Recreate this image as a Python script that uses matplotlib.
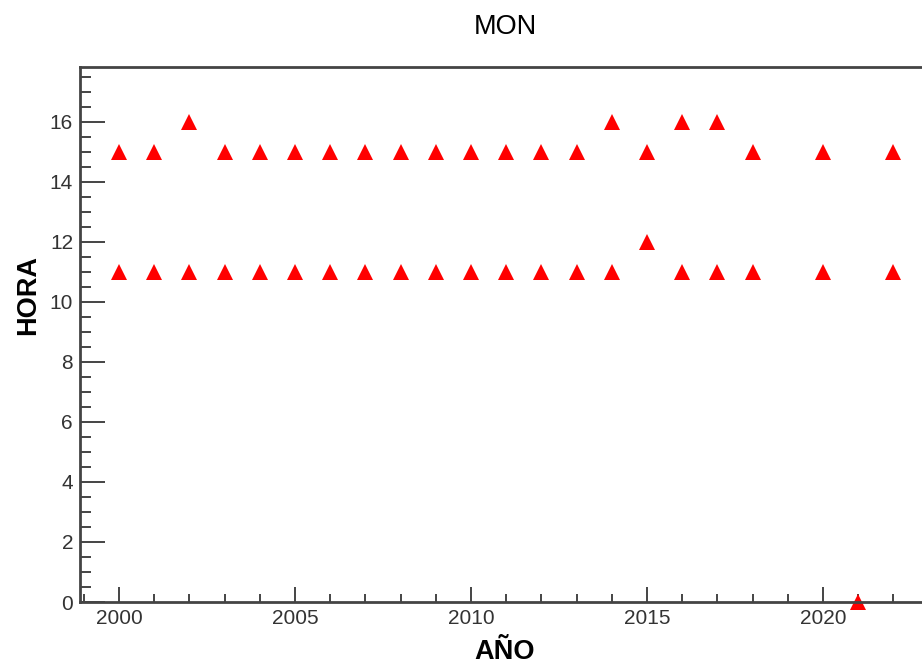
import matplotlib
matplotlib.use('Agg')
import matplotlib.pyplot as plt
from matplotlib.ticker import MultipleLocator

plt.rcParams['font.family'] = ['Liberation Sans', 'DejaVu Sans']

# hours per year (two readings per year, some missing)
years_high = [2000, 2001, 2002, 2003, 2004, 2005, 2006, 2007, 2008, 2009, 2010, 2011,
              2012, 2013, 2014, 2015, 2016, 2017, 2018, 2020, 2021, 2022]
hours_high = [15, 15, 16, 15, 15, 15, 15, 15, 15, 15, 15, 15,
              15, 15, 16, 15, 16, 16, 15, 15, 0, 15]
years_low = [2000, 2001, 2002, 2003, 2004, 2005, 2006, 2007, 2008, 2009, 2010, 2011,
             2012, 2013, 2014, 2015, 2016, 2017, 2018, 2020, 2022]
hours_low = [11, 11, 11, 11, 11, 11, 11, 11, 11, 11, 11, 11,
             11, 11, 11, 12, 11, 11, 11, 11, 11]

axis_col = '#444444'

fig = plt.figure(figsize=(9.22, 6.66), dpi=100)
ax = fig.add_axes([80 / 922, 64 / 666, 850 / 922, 535 / 666])

ax.plot(years_high, hours_high, linestyle='none', marker='^', markersize=11.5,
        color='red', markeredgewidth=0, clip_on=False)
ax.plot(years_low, hours_low, linestyle='none', marker='^', markersize=11.5,
        color='red', markeredgewidth=0, clip_on=False)

ax.set_xlim(1998.89, 2023.04)
ax.set_ylim(0, 17.83)

ax.xaxis.set_major_locator(MultipleLocator(5))
ax.xaxis.set_minor_locator(MultipleLocator(1))
ax.yaxis.set_major_locator(MultipleLocator(2))
ax.yaxis.set_minor_locator(MultipleLocator(0.5))

ax.tick_params(axis='x', which='major', direction='in', length=11, width=1.4,
               color=axis_col, labelsize=15, labelcolor='#333333', pad=5)
ax.tick_params(axis='x', which='minor', direction='in', length=6, width=1.4, color=axis_col)
ax.tick_params(axis='y', which='major', direction='in', length=18, width=1.4,
               color=axis_col, labelsize=15, labelcolor='#333333', pad=5)
ax.tick_params(axis='y', which='minor', direction='in', length=8, width=1.4, color=axis_col)

for s in ax.spines.values():
    s.set_linewidth(2)
    s.set_color(axis_col)

ax.set_title('MON', fontsize=19.5, pad=24)
ax.set_xlabel('AÑO', fontsize=19.5, fontweight='bold', va='baseline')
ax.set_ylabel('HORA', fontsize=19.5, fontweight='bold')
ax.xaxis.set_label_coords(0.5, -0.106)
ax.yaxis.set_label_coords(-0.046, 0.574)

plt.savefig('out.png', dpi=100)
plt.close()
